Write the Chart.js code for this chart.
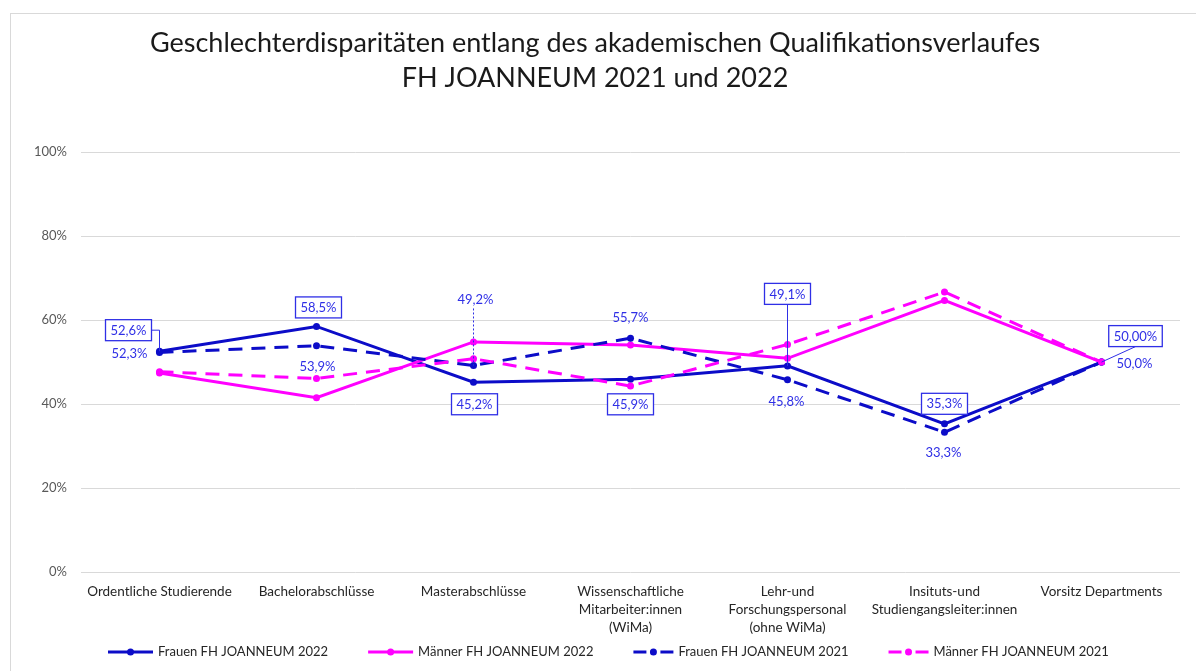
<!DOCTYPE html>
<html>
<head>
<meta charset="utf-8">
<script src="https://cdn.jsdelivr.net/npm/chart.js@4.4.1/dist/chart.umd.min.js"></script>
<style>
html, body { margin: 0; padding: 0; background: #fff; }
#wrap { width: 1196px; height: 671px; }
</style>
</head>
<body>
<div id="wrap"><canvas id="chart" width="1196" height="671"></canvas></div>
<script>
var categories = [
    ["Ordentliche Studierende"],
    ["Bachelorabschlüsse"],
    ["Masterabschlüsse"],
    ["Wissenschaftliche", "Mitarbeiter:innen", "(WiMa)"],
    ["Lehr-und", "Forschungspersonal", "(ohne WiMa)"],
    ["Insituts-und", "Studiengangsleiter:innen"],
    ["Vorsitz Departments"]
];
var frauen2022 = [52.6, 58.5, 45.2, 45.9, 49.1, 35.3, 50.0];
var maenner2022 = [47.4, 41.5, 54.8, 54.1, 50.9, 64.7, 50.0];
var frauen2021 = [52.3, 53.9, 49.2, 55.7, 45.8, 33.3, 50.0];
var maenner2021 = [47.7, 46.1, 50.8, 44.3, 54.2, 66.7, 50.0];
var frauen2022Labels = ["52,6%", "58,5%", "45,2%", "45,9%", "49,1%", "35,3%", "50,00%"];
var frauen2021Labels = ["52,3%", "53,9%", "49,2%", "55,7%", "45,8%", "33,3%", "50,0%"];
var seriesNames = ["Frauen FH JOANNEUM 2022", "Männer FH JOANNEUM 2022", "Frauen FH JOANNEUM 2021", "Männer FH JOANNEUM 2021"];
var titleLines = ["Geschlechterdisparitäten entlang des akademischen Qualifikationsverlaufes", "FH JOANNEUM 2021 und 2022"];

var FONT = "Lato, 'Open Sans', sans-serif";
var BLUE = "#0c0cc8";
var MAGENTA = "#ff00ff";
var LABEL_BLUE = "#2f2fe6";

// Lage der Beschriftungen relativ zum Punkt (wie im Original von Hand verschoben)
var boxedPlacement = [
    { dx: -31, dy: -21, leader: "elbow" },
    { dx: 2, dy: -19 },
    { dx: 1, dy: 22 },
    { dx: 0, dy: 25 },
    { dx: 0, dy: -72, leader: "line" },
    { dx: 0, dy: -20 },
    { dx: 34, dy: -26, leader: "line" }
];
var plainPlacement = [
    { dx: -30, dy: 1 },
    { dx: 1, dy: 21 },
    { dx: 2, dy: -66, leader: "dotted" },
    { dx: 0, dy: -20 },
    { dx: -1, dy: 22 },
    { dx: -1, dy: 21 },
    { dx: 33, dy: 2 }
];

function lineDataset(label, data, color, dashed, order) {
    return {
        label: label,
        data: data,
        borderColor: color,
        backgroundColor: color,
        borderWidth: 3,
        borderDash: dashed ? [14, 9] : [],
        pointRadius: 3.5,
        pointBorderWidth: 0,
        pointBackgroundColor: color,
        tension: 0,
        fill: false,
        order: order // später gezeichnete Serie liegt oben (wie Excel)
    };
}

// Rahmen + weißer Hintergrund
var framePlugin = {
    id: "frame",
    beforeDraw: function (chart) {
        var ctx = chart.ctx;
        ctx.save();
        ctx.fillStyle = "#fff";
        ctx.fillRect(0, 0, chart.width, chart.height);
        ctx.strokeStyle = "#d9d9d9";
        ctx.lineWidth = 1;
        ctx.strokeRect(10.5, 13.5, chart.width + 20, chart.height + 20);
        ctx.restore();
    }
};

// Datenbeschriftungen nur für die Frauen-Serien
var labelPlugin = {
    id: "frauenLabels",
    afterDatasetsDraw: function (chart) {
        var ctx = chart.ctx;
        ctx.save();
        ctx.font = "13px " + FONT;
        ctx.textAlign = "center";
        ctx.textBaseline = "middle";
        ctx.strokeStyle = LABEL_BLUE;
        ctx.fillStyle = LABEL_BLUE;

        var pts22 = chart.getDatasetMeta(0).data;
        pts22.forEach(function (pt, i) {
            var p = boxedPlacement[i];
            var cx = pt.x + p.dx, cy = pt.y + p.dy;
            var w = ctx.measureText(frauen2022Labels[i]).width + 10;
            var h = 21;
            ctx.lineWidth = 1;
            if (p.leader === "elbow") {
                ctx.beginPath();
                ctx.moveTo(cx + w / 2, cy);
                ctx.lineTo(pt.x, cy);
                ctx.lineTo(pt.x, pt.y);
                ctx.stroke();
            } else if (p.leader === "line") {
                ctx.beginPath();
                ctx.moveTo(cx, cy + h / 2);
                ctx.lineTo(pt.x, pt.y);
                ctx.stroke();
            }
            ctx.fillStyle = "#fff";
            ctx.fillRect(cx - w / 2, cy - h / 2, w, h);
            ctx.lineWidth = 1.3;
            ctx.strokeRect(cx - w / 2, cy - h / 2, w, h);
            ctx.fillStyle = LABEL_BLUE;
            ctx.fillText(frauen2022Labels[i], cx, cy + 0.5);
        });

        var pts21 = chart.getDatasetMeta(2).data;
        pts21.forEach(function (pt, i) {
            var p = plainPlacement[i];
            var cx = pt.x + p.dx, cy = pt.y + p.dy;
            if (p.leader === "dotted") {
                ctx.lineWidth = 1;
                ctx.setLineDash([2, 2]);
                ctx.beginPath();
                ctx.moveTo(pt.x, cy + 9);
                ctx.lineTo(pt.x, pt.y);
                ctx.stroke();
                ctx.setLineDash([]);
            }
            ctx.fillText(frauen2021Labels[i], cx, cy);
        });
        ctx.restore();
    }
};

// Legende unten, eine Zeile, Linie mit Punkt als Symbol
var legendPlugin = {
    id: "bottomLegend",
    afterDraw: function (chart) {
        var ctx = chart.ctx;
        var x = 108, y = 652;
        ctx.save();
        ctx.font = "13px " + FONT;
        ctx.textBaseline = "middle";
        ctx.textAlign = "left";
        chart.data.datasets.forEach(function (ds) {
            var dashed = ds.borderDash.length > 0;
            var iw = dashed ? 40 : 45;
            ctx.strokeStyle = ds.borderColor;
            ctx.fillStyle = ds.borderColor;
            ctx.lineWidth = 3;
            ctx.beginPath();
            if (dashed) {
                ctx.moveTo(x, y); ctx.lineTo(x + 13, y);
                ctx.moveTo(x + iw - 13, y); ctx.lineTo(x + iw, y);
            } else {
                ctx.moveTo(x, y); ctx.lineTo(x + iw, y);
            }
            ctx.stroke();
            ctx.beginPath();
            ctx.arc(x + iw / 2, y, 3.5, 0, Math.PI * 2);
            ctx.fill();
            x += iw + 5;
            ctx.fillStyle = "#262626";
            ctx.fillText(ds.label, x, y);
            x += ctx.measureText(ds.label).width + 40;
        });
        ctx.restore();
    }
};

var chart = new Chart(document.getElementById("chart"), {
    type: "line",
    data: {
        labels: categories,
        datasets: [
            lineDataset(seriesNames[0], frauen2022, BLUE, false, 4),
            lineDataset(seriesNames[1], maenner2022, MAGENTA, false, 3),
            lineDataset(seriesNames[2], frauen2021, BLUE, true, 2),
            lineDataset(seriesNames[3], maenner2021, MAGENTA, true, 1)
        ]
    },
    options: {
        responsive: false,
        animation: false,
        events: [],
        layout: { padding: { left: 10, right: 16, top: 0, bottom: 35 } },
        scales: {
            x: {
                offset: true,
                grid: { display: false, drawTicks: false },
                border: { display: false },
                ticks: {
                    color: "#262626",
                    font: { family: FONT, size: 13.5, lineHeight: 1.333 },
                    padding: 11,
                    maxRotation: 0,
                    autoSkip: false
                },
                afterFit: function (scale) { scale.height = 64; }
            },
            y: {
                min: 0,
                max: 100,
                grid: { color: "#d9d9d9", drawTicks: false },
                border: { display: false },
                ticks: {
                    stepSize: 20,
                    color: "#595959",
                    font: { family: FONT, size: 13 },
                    padding: 14,
                    callback: function (v) { return v + "%"; }
                },
                afterFit: function (scale) { scale.width = 71; }
            }
        },
        plugins: {
            legend: { display: false },
            tooltip: { enabled: false },
            title: {
                display: true,
                text: titleLines,
                color: "#1a1a1a",
                font: { family: FONT, size: 27, weight: "normal", lineHeight: 1.3 },
                padding: { top: 26, bottom: 56 }
            }
        }
    },
    plugins: [framePlugin, labelPlugin, legendPlugin]
});
</script>
</body>
</html>
